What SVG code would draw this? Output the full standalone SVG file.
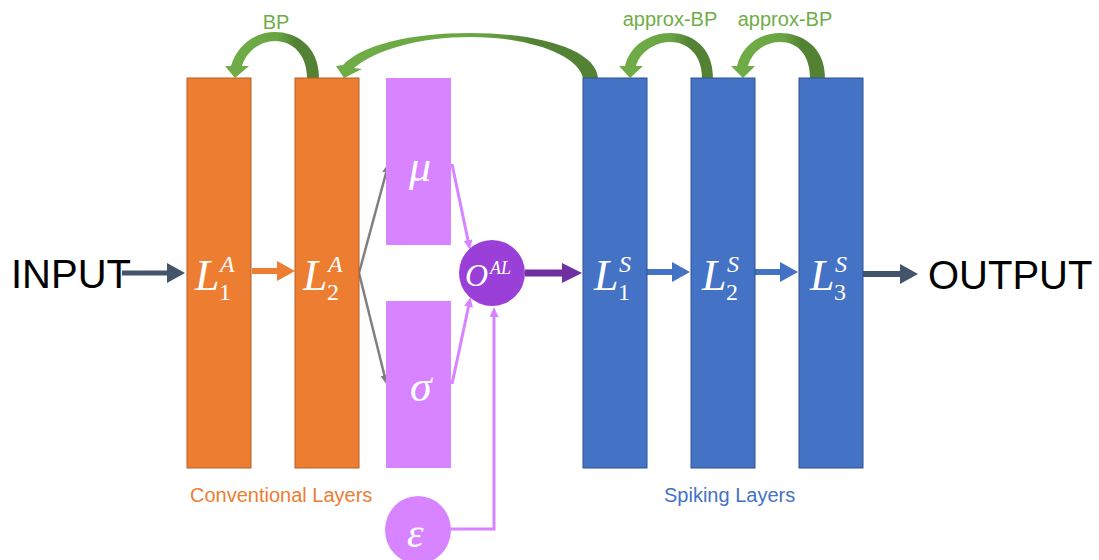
<svg xmlns="http://www.w3.org/2000/svg" width="1099" height="560" viewBox="0 0 1099 560">
  <style>
    .conv { fill: #ED7D31; stroke: #B4612A; stroke-width: 1; }
    .spk { fill: #4472C4; stroke: #2F528F; stroke-width: 1; }
    .dist { fill: #D883FF; }
    .math { font-family: "Liberation Serif", "DejaVu Serif", serif; font-style: italic; fill: #FFFFFF; }
    .up { font-style: normal; }
    .big { font-family: "Liberation Sans", Arial, sans-serif; font-size: 40px; fill: #000000; }
    .note { font-family: "Liberation Sans", Arial, sans-serif; font-size: 20px; }
    .bp { fill: #70AD47; }
    .gfill { fill: url(#greenShade); }
  </style>
  <defs>
    <linearGradient id="greenShade" x1="0" y1="0" x2="1" y2="0">
      <stop offset="0" stop-color="#70AD47"/>
      <stop offset="0.55" stop-color="#6AA543"/>
      <stop offset="0.75" stop-color="#548235"/>
      <stop offset="1" stop-color="#548235"/>
    </linearGradient>
    <marker id="headSlate" markerUnits="userSpaceOnUse" viewBox="0 0 18 20" refX="8" refY="10" markerWidth="18" markerHeight="20" orient="auto">
      <path d="M0,0 L18,10 L0,20 Z" fill="#44546A"/>
    </marker>
    <marker id="headOrange" markerUnits="userSpaceOnUse" viewBox="0 0 18 20" refX="8" refY="10" markerWidth="18" markerHeight="20" orient="auto">
      <path d="M0,0 L18,10 L0,20 Z" fill="#ED7D31"/>
    </marker>
    <marker id="headBlue" markerUnits="userSpaceOnUse" viewBox="0 0 18 20" refX="8" refY="10" markerWidth="18" markerHeight="20" orient="auto">
      <path d="M0,0 L18,10 L0,20 Z" fill="#4472C4"/>
    </marker>
    <marker id="headPurple" markerUnits="userSpaceOnUse" viewBox="0 0 20 20" refX="9" refY="10" markerWidth="20" markerHeight="20" orient="auto">
      <path d="M0,0 L20,10 L0,20 Z" fill="#7030A0"/>
    </marker>
    <marker id="headGray" markerUnits="userSpaceOnUse" viewBox="0 0 10 8" refX="5" refY="4" markerWidth="10" markerHeight="8" orient="auto">
      <path d="M0,0 L10,4 L0,8 Z" fill="#7F7F7F"/>
    </marker>
    <marker id="headPink" markerUnits="userSpaceOnUse" viewBox="0 0 10 9" refX="5" refY="4.5" markerWidth="10" markerHeight="9" orient="auto">
      <path d="M0,0 L10,4.5 L0,9 Z" fill="#D883FF"/>
    </marker>
  </defs>

  <rect width="1099" height="560" fill="#FFFFFF"/>

  <!-- connectors -->
  <g id="connectors" fill="none">
    <line x1="122" y1="273" x2="175" y2="273" stroke="#44546A" stroke-width="5" marker-end="url(#headSlate)"/>
    <line x1="252" y1="271" x2="285" y2="271" stroke="#ED7D31" stroke-width="6" marker-end="url(#headOrange)"/>
    <line x1="359" y1="273" x2="387.4" y2="168" stroke="#7F7F7F" stroke-width="2.5" marker-end="url(#headGray)"/>
    <line x1="359" y1="273" x2="385.6" y2="380" stroke="#7F7F7F" stroke-width="2.5" marker-end="url(#headGray)"/>
    <line x1="452" y1="164" x2="469" y2="245" stroke="#D883FF" stroke-width="3" marker-end="url(#headPink)"/>
    <line x1="452" y1="384" x2="469.5" y2="302" stroke="#D883FF" stroke-width="3" marker-end="url(#headPink)"/>
    <polyline points="451,529 494,529 494,312" stroke="#D883FF" stroke-width="3" marker-end="url(#headPink)"/>
    <line x1="525" y1="273" x2="571" y2="273" stroke="#7030A0" stroke-width="7" marker-end="url(#headPurple)"/>
    <line x1="647" y1="272" x2="680" y2="272" stroke="#4472C4" stroke-width="6" marker-end="url(#headBlue)"/>
    <line x1="755" y1="272" x2="788" y2="272" stroke="#4472C4" stroke-width="6" marker-end="url(#headBlue)"/>
    <line x1="863" y1="274" x2="908" y2="274" stroke="#44546A" stroke-width="6" marker-end="url(#headSlate)"/>

    <!-- curved feedback arrows -->
    <path class="gfill" d="M 319 78 C 319 45, 295 32, 275 32 C 255 32, 237 45, 231 66 L 225 66 L 235 78 L 249 66 L 242 66 C 246 52, 260 41, 275 41 C 293 41, 307 55, 307 78 Z"/>
    <path class="gfill" d="M 598 78 C 596 50, 540 33, 470 33 C 410 33, 362 45, 343 65 L 336 66 L 344 78 L 362 69 L 354 68 C 375 50, 420 37, 470 37 C 530 37, 578 55, 583 78 Z"/>
    <path class="gfill" d="M 713 78 C 713 45, 690 33, 670 33 C 650 33, 630 45, 625 66 L 619 66 L 630 78 L 643 66 L 636 66 C 640 52, 655 42, 670 42 C 688 42, 702 55, 702 78 Z"/>
    <path class="gfill" d="M 825 78 C 825 45, 800 33, 780 33 C 760 33, 742 45, 737 66 L 731 66 L 743 78 L 755 66 L 748 66 C 752 52, 765 42, 780 42 C 798 42, 810 55, 810 78 Z"/>
  </g>

  <!-- input / output -->
  <g id="input">
    <text class="big" x="11" y="288">INPUT</text>
  </g>
  <g id="output">
    <text class="big" x="928" y="289">OUTPUT</text>
  </g>

  <!-- conventional (analog) layers -->
  <g id="l1a">
    <rect class="conv" x="187" y="78" width="64" height="390"/>
    <text class="math" x="195" y="290" font-size="44">L</text>
    <text class="math" x="220" y="272" font-size="24">A</text>
    <text class="math up" x="219" y="300" font-size="24">1</text>
  </g>
  <g id="l2a">
    <rect class="conv" x="295" y="78" width="64" height="390"/>
    <text class="math" x="303" y="290" font-size="44">L</text>
    <text class="math" x="328" y="272" font-size="24">A</text>
    <text class="math up" x="327" y="300" font-size="24">2</text>
  </g>

  <!-- distribution parameters -->
  <g id="mu">
    <rect class="dist" x="386" y="78" width="65" height="167"/>
    <text class="math" x="409" y="181" font-size="44">μ</text>
  </g>
  <g id="sigma">
    <rect class="dist" x="386" y="301" width="65" height="167"/>
    <text class="math" x="410" y="401" font-size="44">σ</text>
  </g>
  <g id="epsilon">
    <ellipse class="dist" cx="418" cy="530" rx="33" ry="34"/>
    <text class="math" x="407" y="547" font-size="42">ε</text>
  </g>

  <!-- adaptation layer output -->
  <g id="oal">
    <circle cx="492" cy="273" r="33" fill="#9A3FD7"/>
    <text class="math" x="465" y="286" font-size="32">O</text>
    <text class="math" x="490" y="274" font-size="18">AL</text>
  </g>

  <!-- spiking layers -->
  <g id="l1s">
    <rect class="spk" x="583" y="78" width="64" height="390"/>
    <text class="math" x="594" y="290" font-size="44">L</text>
    <text class="math" x="619" y="272" font-size="24">S</text>
    <text class="math up" x="618" y="300" font-size="24">1</text>
  </g>
  <g id="l2s">
    <rect class="spk" x="691" y="78" width="64" height="390"/>
    <text class="math" x="702" y="290" font-size="44">L</text>
    <text class="math" x="727" y="272" font-size="24">S</text>
    <text class="math up" x="726" y="300" font-size="24">2</text>
  </g>
  <g id="l3s">
    <rect class="spk" x="799" y="78" width="64" height="390"/>
    <text class="math" x="810" y="290" font-size="44">L</text>
    <text class="math" x="835" y="272" font-size="24">S</text>
    <text class="math up" x="834" y="300" font-size="24">3</text>
  </g>

  <!-- labels -->
  <g id="labels" class="note">
    <text class="bp" x="276" y="29" text-anchor="middle">BP</text>
    <text class="bp" x="670" y="26" text-anchor="middle">approx-BP</text>
    <text class="bp" x="785" y="26" text-anchor="middle">approx-BP</text>
    <text x="190" y="502" fill="#ED7D31">Conventional Layers</text>
    <text x="664" y="502" fill="#4472C4">Spiking Layers</text>
  </g>
</svg>
